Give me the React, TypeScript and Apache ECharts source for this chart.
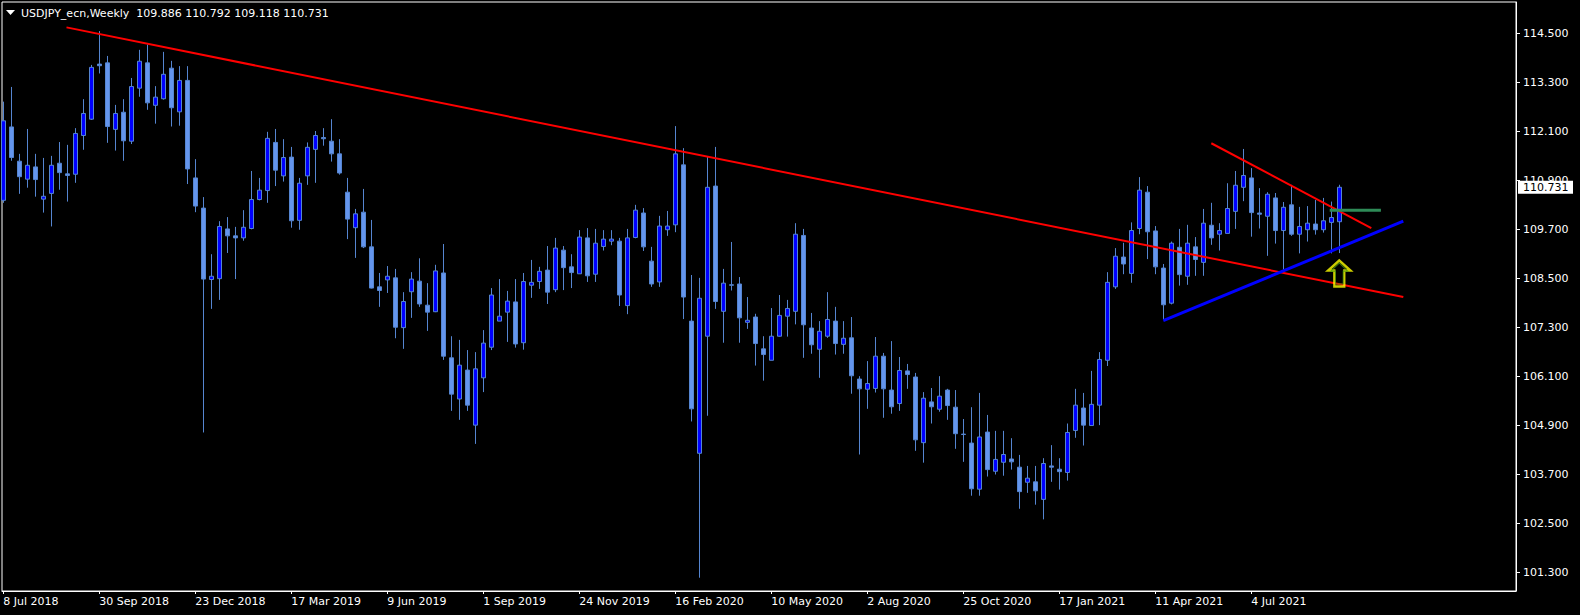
import React, { useEffect, useRef } from 'react';
import * as echarts from 'echarts';

const symbolName = 'USDJPY_ecn,Weekly';

const weekLabels = ['8 Jul 2018', '30 Sep 2018', '23 Dec 2018', '17 Mar 2019', '9 Jun 2019', '1 Sep 2019', '24 Nov 2019', '16 Feb 2020', '10 May 2020', '2 Aug 2020', '25 Oct 2020', '17 Jan 2021', '11 Apr 2021', '4 Jul 2021'];
const labelBars = [0, 12, 24, 36, 48, 60, 72, 84, 96, 108, 120, 132, 144, 156];

const priceTicks = [114.5, 113.3, 112.1, 110.9, 109.7, 108.5, 107.3, 106.1, 104.9, 103.7, 102.5, 101.3];

const opens = [
  110.41, 112.21, 111.37, 110.93, 111.23, 110.44, 110.58, 111.32, 111.06, 111.05,
  112.00, 112.40, 113.75, 113.78, 112.15, 112.57, 111.86, 113.16, 113.78, 112.74,
  112.90, 113.65, 112.58, 113.35, 110.96, 110.22, 108.47, 108.49, 109.71, 109.54,
  109.49, 109.72, 110.43, 110.65, 111.83, 111.01, 111.47, 109.92, 111.01, 111.66,
  111.95, 111.86, 111.55, 110.61, 109.74, 110.12, 109.27, 108.29, 108.46, 108.51,
  107.29, 108.17, 108.43, 107.84, 107.68, 108.63, 106.55, 105.54, 106.25, 104.90,
  106.06, 106.81, 107.45, 107.67, 107.92, 106.92, 108.33, 108.42, 108.70, 108.22,
  109.19, 108.78, 108.61, 109.49, 108.60, 109.28, 109.41, 109.41, 107.83, 109.50,
  110.10, 108.92, 108.41, 109.69, 109.81, 111.28, 107.45, 104.21, 107.08, 110.76,
  107.69, 108.34, 108.36, 107.42, 107.55, 106.77, 106.49, 107.08, 107.57, 107.69,
  109.55, 107.28, 106.76, 107.08, 107.45, 106.88, 107.04, 106.03, 105.78, 105.80,
  106.59, 105.76, 105.43, 106.23, 106.08, 104.47, 105.47, 105.29, 105.76, 105.34,
  104.68, 104.46, 103.33, 104.73, 103.77, 103.99, 104.07, 103.87, 103.50, 103.51,
  103.08, 103.90, 103.82, 103.74, 104.77, 105.32, 104.89, 105.39, 106.49, 108.29,
  109.02, 108.62, 109.72, 110.61, 109.66, 108.75, 107.89, 109.26, 108.55, 109.27,
  108.89, 109.80, 109.58, 109.60, 110.14, 110.73, 110.96, 110.10, 110.02, 110.47,
  109.67, 110.30, 109.58, 109.69, 109.83, 109.69, 109.87, 109.886
];
const highs = [
  112.83, 113.19, 111.55, 112.16, 111.55, 111.45, 111.50, 111.84, 111.77, 112.18,
  112.89, 113.73, 114.56, 113.95, 112.75, 112.89, 113.41, 114.10, 114.23, 113.21,
  114.05, 113.83, 113.70, 113.70, 111.42, 110.49, 109.09, 109.90, 110.00, 109.76,
  110.17, 111.13, 110.96, 112.09, 112.16, 111.91, 111.72, 110.96, 111.83, 112.11,
  112.18, 112.40, 111.91, 110.96, 110.20, 110.69, 109.93, 108.63, 108.80, 108.73,
  108.16, 108.65, 108.99, 108.38, 108.83, 109.34, 107.08, 106.99, 106.74, 106.69,
  107.23, 108.26, 108.48, 108.19, 108.48, 108.63, 108.95, 108.78, 109.29, 109.49,
  109.29, 109.09, 109.68, 109.73, 109.71, 109.68, 109.68, 109.49, 109.71, 110.30,
  110.22, 109.27, 110.03, 110.15, 112.23, 111.69, 108.58, 108.51, 111.48, 111.72,
  108.73, 109.39, 108.53, 108.04, 107.63, 107.08, 107.77, 108.09, 107.97, 109.85,
  109.71, 107.65, 107.45, 108.16, 107.80, 107.45, 107.55, 106.10, 106.47, 107.06,
  106.67, 106.96, 106.57, 106.40, 106.18, 105.71, 105.81, 106.10, 105.79, 105.76,
  105.05, 105.34, 105.69, 105.15, 104.76, 104.76, 104.58, 104.17, 103.90, 103.90,
  104.09, 104.41, 104.09, 104.94, 105.79, 105.69, 106.23, 106.69, 108.65, 109.24,
  109.37, 109.87, 110.98, 110.76, 109.78, 108.85, 109.40, 109.71, 109.81, 109.51,
  110.20, 110.35, 109.85, 110.83, 111.13, 111.67, 111.20, 110.71, 110.61, 110.59,
  110.37, 110.79, 110.25, 110.27, 110.42, 110.47, 110.38, 110.792
];
const lows = [
  110.35, 111.38, 110.57, 110.72, 110.50, 110.11, 109.77, 110.67, 110.38, 110.84,
  111.65, 112.38, 113.52, 111.82, 111.63, 111.38, 111.79, 112.95, 112.63, 112.29,
  112.88, 112.22, 112.24, 110.81, 110.12, 104.72, 107.75, 107.97, 109.12, 108.48,
  109.42, 109.70, 110.41, 110.35, 110.76, 110.87, 109.74, 109.69, 110.79, 110.84,
  111.75, 111.36, 111.04, 109.46, 109.00, 109.24, 108.25, 107.80, 108.14, 107.03,
  106.77, 107.53, 107.80, 107.21, 107.67, 106.50, 105.25, 105.03, 105.25, 104.44,
  105.71, 106.74, 107.45, 106.94, 106.80, 106.75, 108.02, 108.24, 107.87, 108.16,
  108.21, 108.26, 108.61, 108.41, 108.41, 109.18, 109.31, 107.82, 107.62, 109.48,
  109.17, 108.29, 108.29, 109.54, 109.63, 107.50, 104.99, 101.16, 105.13, 107.75,
  106.92, 108.20, 106.92, 107.26, 106.36, 105.99, 106.49, 107.07, 107.07, 107.37,
  106.55, 106.65, 106.06, 107.04, 106.63, 106.65, 105.67, 104.18, 105.30, 105.70,
  105.08, 105.18, 105.25, 105.79, 104.27, 103.98, 104.94, 105.23, 105.03, 104.32,
  104.00, 103.17, 103.17, 103.64, 103.69, 103.66, 103.81, 102.85, 103.24, 102.95,
  102.59, 103.51, 103.32, 103.54, 104.59, 104.40, 104.89, 104.90, 106.35, 108.24,
  108.60, 108.39, 109.58, 108.97, 108.60, 107.50, 107.86, 108.32, 108.34, 108.56,
  108.56, 109.32, 109.18, 109.60, 109.71, 110.39, 109.52, 109.72, 109.05, 109.35,
  108.71, 109.54, 109.11, 109.40, 109.57, 109.62, 109.11, 109.118
];
const closes = [
  112.36, 111.46, 110.99, 111.27, 110.92, 110.51, 111.27, 111.09, 111.02, 112.05,
  112.54, 113.67, 113.71, 112.22, 112.54, 111.87, 113.20, 113.82, 112.80, 112.94,
  113.50, 112.68, 113.35, 111.18, 110.27, 108.48, 108.55, 109.77, 109.54, 109.49,
  109.75, 110.43, 110.66, 111.93, 111.15, 111.46, 109.91, 110.83, 111.71, 112.00,
  111.92, 111.55, 111.08, 109.95, 110.08, 109.27, 108.26, 108.20, 108.55, 107.30,
  107.93, 108.48, 107.87, 107.67, 108.68, 106.59, 105.66, 106.37, 105.39, 106.28,
  106.91, 108.09, 107.57, 107.94, 106.89, 108.42, 108.40, 108.67, 108.16, 109.24,
  108.76, 108.64, 109.51, 108.56, 109.36, 109.46, 109.46, 108.09, 109.49, 110.17,
  109.27, 108.36, 109.78, 109.78, 111.55, 108.04, 105.30, 108.01, 110.73, 107.93,
  108.38, 108.33, 107.53, 107.47, 106.90, 106.63, 107.08, 107.59, 107.76, 109.58,
  107.36, 106.87, 107.20, 107.49, 106.90, 107.03, 106.11, 105.79, 105.92, 106.59,
  105.79, 105.35, 106.24, 106.14, 104.54, 105.56, 105.35, 105.61, 105.38, 104.69,
  104.67, 103.34, 104.61, 103.81, 104.06, 104.18, 104.00, 103.27, 103.60, 103.29,
  103.96, 103.87, 103.76, 104.72, 105.39, 104.90, 105.41, 106.51, 108.40, 109.04,
  108.85, 109.67, 110.66, 109.64, 108.78, 107.85, 109.36, 108.59, 109.36, 108.96,
  109.85, 109.49, 109.67, 110.21, 110.78, 111.02, 110.11, 110.07, 110.56, 109.67,
  110.24, 109.58, 109.77, 109.85, 109.69, 109.91, 109.99, 110.731
];

// trend objects: [bar index, price]
const longTrendLine = [[7.9, 114.65], [175, 108.04]];
const upperTrendLine = [[151, 111.81], [171, 109.73]];
const blueTrendLine = [[145, 107.46], [175, 109.9]];
const greenLevel = [[165.8, 110.166], [172.2, 110.166]];
const arrowPoint = [167, 108.617];

const FONT = 'DejaVu Sans';

export default function App() {
  const ref = useRef<HTMLDivElement>(null);

  useEffect(() => {
    document.body.style.margin = '0';
    document.body.style.background = '#000';
    const chart = echarts.init(ref.current as HTMLDivElement, null, { renderer: 'svg' });
    const candles = opens.map((o, i) => [i, o, closes[i], lows[i], highs[i]]);
    const last = opens.length - 1;

    chart.setOption({
      animation: false,
      backgroundColor: '#000',
      grid: {
        left: 2, top: 2, right: 64, bottom: 24,
        show: true, borderColor: '#fff', borderWidth: 1, backgroundColor: '#000'
      },
      xAxis: {
        type: 'value', min: -0.1625, max: 189.0875,
        splitLine: { show: false },
        axisLine: { show: true, onZero: false, lineStyle: { color: '#fff', width: 1 } },
        axisTick: { show: true, customValues: labelBars, length: 3, lineStyle: { color: '#fff' } },
        axisLabel: {
          customValues: labelBars,
          formatter: (v: number) => weekLabels[labelBars.indexOf(Math.round(v))] ?? '',
          color: '#fff', fontFamily: FONT, fontSize: 11, align: 'left', margin: 5
        }
      },
      yAxis: {
        type: 'value', position: 'right', min: 100.8343, max: 115.2722,
        splitLine: { show: false },
        axisLine: { show: true, onZero: false, lineStyle: { color: '#fff', width: 1 } },
        axisTick: { show: true, customValues: priceTicks, length: 4, lineStyle: { color: '#fff' } },
        axisLabel: {
          customValues: priceTicks,
          formatter: (v: number) => v.toFixed(3),
          color: '#fff', fontFamily: FONT, fontSize: 11, margin: 7
        }
      },
      series: [
        {
          type: 'candlestick',
          data: candles,
          barWidth: 5,
          itemStyle: {
            color: '#0000FF', color0: '#6495ED',
            borderColor: '#5585D0', borderColor0: '#5585D0', borderWidth: 1
          },
          z: 2
        },
        {
          type: 'line', data: longTrendLine, symbol: 'none', silent: true,
          lineStyle: { color: '#FF0000', width: 2 }, z: 3
        },
        {
          type: 'line', data: upperTrendLine, symbol: 'none', silent: true,
          lineStyle: { color: '#FF0000', width: 2 }, z: 3
        },
        {
          type: 'line', data: blueTrendLine, symbol: 'none', silent: true,
          lineStyle: { color: '#0000FF', width: 3 }, z: 3
        },
        {
          type: 'line', data: greenLevel, symbol: 'none', silent: true,
          lineStyle: { color: '#2E8B57', width: 3 }, z: 3
        },
        {
          type: 'scatter', data: [arrowPoint], silent: true,
          symbol: 'path://M11 0L22 10L16 10L16 26L6 26L6 10L0 10Z',
          symbolSize: [22, 26],
          itemStyle: { color: 'rgba(0,0,0,0)', borderColor: '#FFFF00', borderWidth: 2.5 },
          z: 4
        },
        {
          type: 'scatter', data: [arrowPoint], silent: true,
          symbol: 'path://M11 0L22 10L16 10L16 26L6 26L6 10L0 10Z',
          symbolSize: [17, 21],
          itemStyle: { color: 'rgba(0,0,0,0)', borderColor: '#4a9a10', borderWidth: 1 },
          z: 5
        }
      ]
    });

    const yPix = chart.convertToPixel({ yAxisIndex: 0 }, closes[last]) as number;
    const header = `${symbolName}  ${opens[last].toFixed(3)} ${highs[last].toFixed(3)} ${lows[last].toFixed(3)} ${closes[last].toFixed(3)}`;

    chart.setOption({
      graphic: [
        { type: 'polygon', shape: { points: [[6, 10], [15, 10], [10.5, 15]] }, style: { fill: '#fff' }, z: 100 },
        {
          type: 'text', x: 21, y: 13,
          style: { text: header, fill: '#fff', font: `11px "${FONT}"`, verticalAlign: 'middle' }, z: 100
        },
        { type: 'rect', shape: { x: 1518, y: yPix - 6.5, width: 55, height: 13 }, style: { fill: '#fff' }, z: 100 },
        {
          type: 'text', x: 1523, y: yPix,
          style: { text: closes[last].toFixed(3), fill: '#000', font: `11px "${FONT}"`, verticalAlign: 'middle' }, z: 101
        }
      ]
    });

    return () => chart.dispose();
  }, []);

  return (
    <div style={{ position: 'fixed', left: 0, top: 0, width: 1580, height: 615, background: '#000' }}>
      <div ref={ref} style={{ width: 1580, height: 615 }} />
    </div>
  );
}
